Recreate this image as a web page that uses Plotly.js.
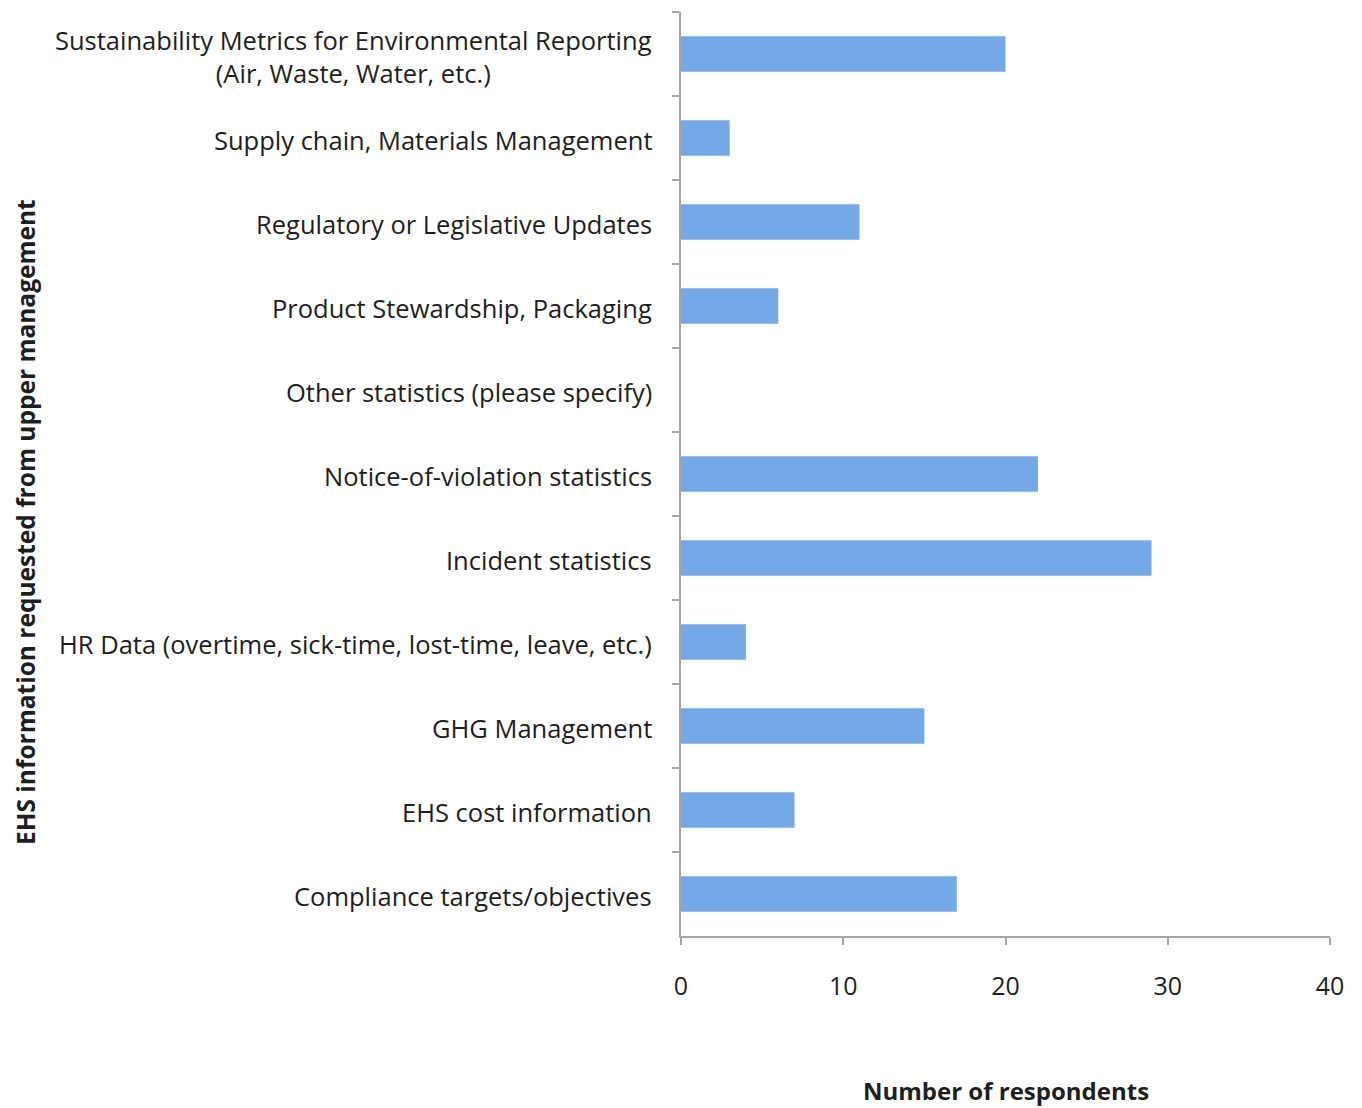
<!DOCTYPE html>
<html>
<head>
<meta charset="utf-8">
<script src="https://cdn.plot.ly/plotly-3.0.1.min.js"></script>
<style>html,body{margin:0;padding:0;background:#fff;}#chart{width:1362px;height:1108px;}</style>
</head>
<body>
<div id="chart"></div>
<script>
// Categories listed top to bottom as in the reference
const categories = [
  "Sustainability Metrics for Environmental Reporting<br>(Air, Waste, Water, etc.)",
  "Supply chain, Materials Management",
  "Regulatory or Legislative Updates",
  "Product Stewardship, Packaging",
  "Other statistics (please specify)",
  "Notice-of-violation statistics",
  "Incident statistics",
  "HR Data (overtime, sick-time, lost-time, leave, etc.)",
  "GHG Management",
  "EHS cost information",
  "Compliance targets/objectives"
];
const respondents = [20, 3, 11, 6, 0, 22, 29, 4, 15, 7, 17];
const xTickValues = [0, 10, 20, 30, 40];
const xTitle = "Number of respondents";
const yTitle = "EHS information requested from upper management";

const FONT = "Open Sans, Lato, sans-serif";
const TXT = "#1e1e1e";

const trace = {
  type: "bar",
  orientation: "h",
  y: categories,
  x: respondents,
  width: 0.42,
  marker: {color: "#74a8e6", line: {width: 0}},
  hoverinfo: "x+y"
};

const labelAnnotations = categories.map(c => ({
  xref: "paper", yref: "y", x: 0, y: c,
  text: c, showarrow: false, xanchor: "right", yanchor: "middle",
  align: "center", xshift: -27, yshift: -2,
  font: {family: FONT, size: 25.5, color: TXT}
}));

const layout = {
  width: 1362, height: 1108,
  margin: {l: 681, r: 32, t: 12, b: 172},
  paper_bgcolor: "#ffffff", plot_bgcolor: "#ffffff",
  showlegend: false,
  xaxis: {
    range: [0, 40],
    tickvals: xTickValues,
    ticks: "outside", ticklen: 7, tickwidth: 2, tickcolor: "#a6a6a6",
    showline: true, linecolor: "#a6a6a6", linewidth: 2,
    showgrid: false, zeroline: false,
    ticklabelstandoff: 20,
    tickfont: {family: FONT, size: 25, color: TXT},
    fixedrange: true
  },
  yaxis: {
    type: "category",
    autorange: "reversed",
    tickson: "boundaries",
    ticks: "outside", ticklen: 7, tickwidth: 2, tickcolor: "#a6a6a6",
    showticklabels: false,
    showline: true, linecolor: "#a6a6a6", linewidth: 2,
    showgrid: false, zeroline: false,
    fixedrange: true
  },
  annotations: labelAnnotations.concat([
    {
      xref: "paper", yref: "paper", x: 0.5, y: 0, yshift: -154,
      text: "<b>" + xTitle + "</b>", showarrow: false,
      xanchor: "center", yanchor: "middle",
      font: {family: FONT, size: 24, color: TXT}
    },
    {
      xref: "paper", yref: "paper", x: 0, xshift: -656, y: 0.5, yshift: -48,
      text: "<b>" + yTitle + "</b>", showarrow: false, textangle: -90,
      xanchor: "center", yanchor: "middle",
      font: {family: FONT, size: 24.5, color: TXT}
    }
  ])
};

Plotly.newPlot("chart", [trace], layout, {displayModeBar: false, staticPlot: true});
</script>
</body>
</html>
